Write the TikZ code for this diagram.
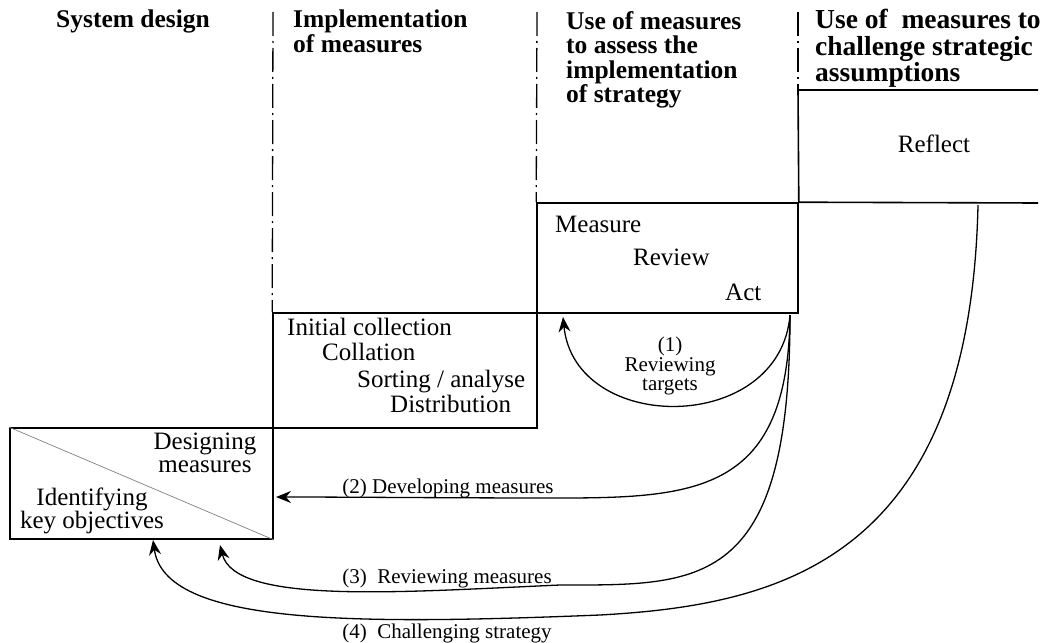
\documentclass[tikz,border=0pt]{standalone}
\usepackage{fontspec}
\setmainfont{Liberation Serif}
\usetikzlibrary{arrows.meta}
\tikzset{ stage_box/.style = {rectangle, draw, line width=1.6pt, inner sep=0pt} }
\tikzset{ head_txt/.style = {anchor=north west, inner sep=0pt, align=left, font=\fontsize{25.5}{24.5}\selectfont\bfseries} }
\tikzset{ step_txt/.style = {anchor=base west, inner sep=0pt, font=\fontsize{25}{23}\selectfont} }
\tikzset{ loop_lbl/.style = {inner sep=0pt, align=center, font=\fontsize{21}{19.5}\selectfont} }
\tikzset{ col_sep/.style = {line width=1.3pt, dash pattern=on 24pt off 5pt on 2pt off 5pt} }
\tikzset{ feedback/.style = {line width=1.3pt, -{Stealth[length=15pt,width=12pt,inset=5pt]}} }

\begin{document}
\begin{tikzpicture}[x=1pt,y=-1pt]
    \useasboundingbox (0,0) rectangle (1040,642);
    \clip (0,0) rectangle (1040,642);
    % the staircase of stages
    \node[stage_box, minimum width=263pt, minimum height=111pt] (design) at (141.5,483.5) {};
    \node[stage_box, minimum width=264pt, minimum height=115pt] (impl) at (405,370.5) {};
    \node[stage_box, minimum width=261pt, minimum height=110pt] (assess) at (667.5,258) {};
    \coordinate (refl_tl) at (798,90);
    \coordinate (refl_tr) at (1038,90);
    \coordinate (refl_br) at (1038,203);
    \draw[line width=1.6pt] (refl_tr) -- (refl_tl) -- (assess.north east) -- (refl_br);
    \draw[line width=0.7pt, gray] (design.north west) -- (design.south east);
    % column dividers
    \coordinate (sep1) at (273,12);
    \coordinate (sep2) at (537,12);
    \coordinate (sep3) at (798,12);
    \draw[col_sep] (sep1) -- (impl.north west);
    \draw[col_sep] (sep2) -- (assess.north west);
    \draw[col_sep] (sep3) -- (refl_tl);
    % headings
    \node[head_txt] (h_sys) at (56,10) {System design};
    \node[head_txt] (h_impl) at (293,10) {Implementation\\of measures};
    \node[head_txt] (h_assess) at (566,11) {Use of measures\\to assess the\\implementation\\of strategy};
    \node[head_txt, font=\fontsize{27.5}{26.5}\selectfont\bfseries] (h_chal) at (815,9) {Use of\ \ measures to\\challenge strategic\\assumptions};
    % stage contents
    \node[step_txt, anchor=north, align=center] (s_design) at (205,433) {Designing\\measures};
    \node[step_txt, anchor=north, align=center] (s_ident) at (92,488) {Identifying\\key objectives};
    \node[step_txt] (s_init) at (287,335) {Initial collection};
    \node[step_txt] (s_coll) at (322,360) {Collation};
    \node[step_txt] (s_sort) at (357,387) {Sorting / analyse};
    \node[step_txt] (s_dist) at (390,412) {Distribution};
    \node[step_txt] (s_meas) at (555,232) {Measure};
    \node[step_txt] (s_rev) at (633,265) {Review};
    \node[step_txt] (s_act) at (725,300) {Act};
    \node[step_txt, anchor=base] (s_refl) at (934,152) {Reflect};
    % feedback loops
    \coordinate (fork) at (790,315);
    \coordinate (refl_out) at (978,205);
    \coordinate (t1) at (563,317);
    \coordinate (t2) at (276,497);
    \coordinate (t3) at (220,545);
    \coordinate (t4) at (153,540);
    \draw[feedback] (fork) .. controls (780,435) and (575,435) .. (t1);
    \draw[feedback] (fork) .. controls (788,490) and (700,498) .. (560,498) .. controls (450,498) and (350,497) .. (t2);
    \draw[feedback] (fork) .. controls (790,590) and (700,585) .. (560,585) .. controls (400,592) and (235,605) .. (t3);
    \draw[feedback] (refl_out) .. controls (970,560) and (780,605) .. (600,615) .. controls (350,625) and (165,625) .. (t4);
    \node[loop_lbl, anchor=north] (l1) at (670,337) {(1)\\Reviewing\\targets};
    \node[loop_lbl, anchor=base] (l2) at (448,493) {(2) Developing measures};
    \node[loop_lbl, anchor=base] (l3) at (447,583) {(3)\ \ Reviewing measures};
    \node[loop_lbl, anchor=base] (l4) at (447,638) {(4)\ \ Challenging strategy};
\end{tikzpicture}
\end{document}
